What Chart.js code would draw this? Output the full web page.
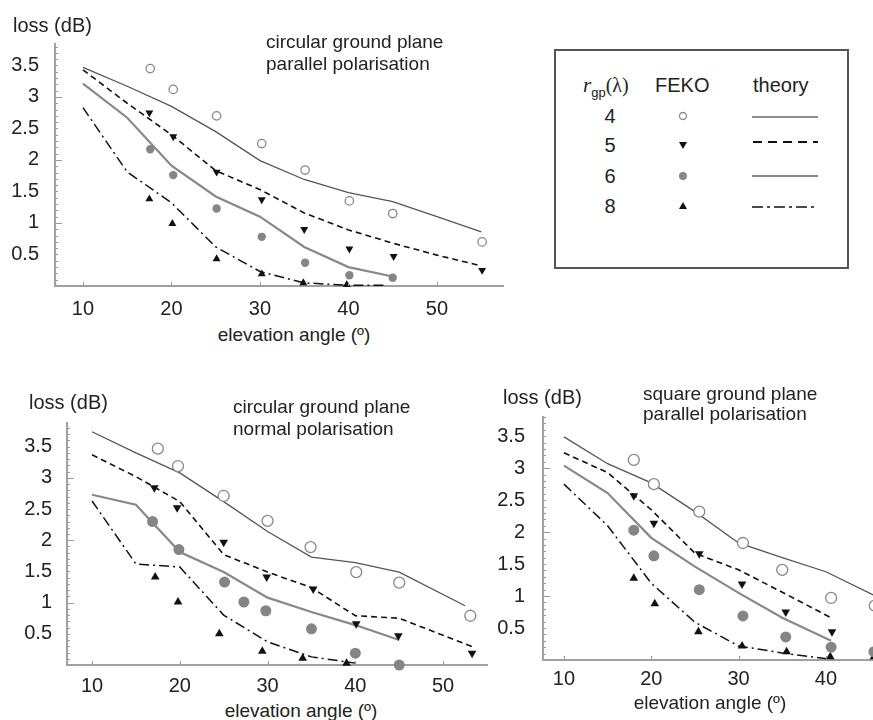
<!DOCTYPE html>
<html>
<head>
<meta charset="utf-8">
<script src="https://cdn.jsdelivr.net/npm/chart.js@4"></script>
<style>
  html, body { margin: 0; padding: 0; background: #fff; }
  body { width: 873px; height: 720px; overflow: hidden; position: relative;
         font-family: "Liberation Sans", Arial, sans-serif; color: #222; }
  .box { position: absolute; }
  .t { position: absolute; line-height: 1; white-space: nowrap; }
  .f20 { font-size: 20px; }
  .f19 { font-size: 19px; }
  .c { transform: translateX(-50%); }
  #legend { position: absolute; left: 554px; top: 49px; width: 291px; height: 216px;
            border: 2px solid #555; box-sizing: content-box; }
</style>
</head>
<body>

<div class="box" style="left:0;top:30px"><canvas id="top" width="520" height="290"></canvas></div>
<div class="box" style="left:0;top:400px"><canvas id="botLeft" width="510" height="295"></canvas></div>
<div class="box" style="left:480px;top:400px"><canvas id="botRight" width="440" height="290"></canvas></div>

<div class="t f20" style="left:13px;top:15px">loss (dB)</div>
<div class="t f19" style="left:266px;top:32px">circular ground plane</div>
<div class="t f19" style="left:266px;top:54px">parallel polarisation</div>
<div class="t f19 c" style="left:294px;top:325px">elevation angle (º)</div>

<div class="t f20" style="left:29px;top:392px">loss (dB)</div>
<div class="t f19" style="left:233px;top:397px">circular ground plane</div>
<div class="t f19" style="left:233px;top:419px">normal polarisation</div>
<div class="t f19 c" style="left:301px;top:701px">elevation angle (º)</div>

<div class="t f20" style="left:503px;top:387px">loss (dB)</div>
<div class="t f19" style="left:643px;top:384px">square ground plane</div>
<div class="t f19" style="left:643px;top:404px">parallel polarisation</div>
<div class="t f19 c" style="left:710px;top:693px">elevation angle (º)</div>

<div id="legend"></div>
<div class="t f20" style="left:583px;top:75px"><span style="font-family:'Liberation Serif',serif;font-style:italic;font-size:21px">r</span><span style="font-size:13px;position:relative;top:5px">gp</span><span style="font-family:'Liberation Serif',serif">(λ)</span></div>
<div class="t f20" style="left:655px;top:75px">FEKO</div>
<div class="t f20" style="left:753px;top:75px">theory</div>
<div class="t f20 c" style="left:610px;top:106px">4</div>
<div class="t f20 c" style="left:610px;top:135px">5</div>
<div class="t f20 c" style="left:610px;top:166px">6</div>
<div class="t f20 c" style="left:610px;top:196px">8</div>
<svg class="box" style="left:0;top:0" width="873" height="300">
  <circle cx="683" cy="116" r="3.5" fill="#fff" stroke="#888" stroke-width="1.3"/>
  <polygon points="679,142 687,142 683,149" fill="#111"/>
  <circle cx="683" cy="176" r="4" fill="#888"/>
  <polygon points="679,209 687,209 683,202" fill="#111"/>
  <line x1="752" y1="117" x2="818" y2="117" stroke="#666" stroke-width="1.3"/>
  <line x1="753" y1="142" x2="818" y2="142" stroke="#111" stroke-width="2" stroke-dasharray="9,6"/>
  <line x1="752" y1="176" x2="818" y2="176" stroke="#888" stroke-width="2"/>
  <line x1="752" y1="207" x2="818" y2="207" stroke="#111" stroke-width="1.6" stroke-dasharray="11,4,3,4"/>
</svg>

<script>
const xTicks = [10, 20, 30, 40, 50];
const yTicks = [0.5, 1, 1.5, 2, 2.5, 3, 3.5];

// circular ground plane, parallel polarisation
const cpFekoX4 = [17.6, 20.2, 25.1, 30.2, 35.1, 40.1, 45.0, 55.1];
const cpFeko4 = [3.45, 3.12, 2.70, 2.26, 1.84, 1.35, 1.15, 0.70];
const cpFekoX5 = [17.5, 20.2, 25.1, 30.2, 35.0, 40.1, 45.1, 55.1];
const cpFeko5 = [2.75, 2.37, 1.81, 1.37, 0.90, 0.59, 0.47, 0.25];
const cpFekoX6 = [17.6, 20.2, 25.1, 30.2, 35.1, 40.1, 45.0];
const cpFeko6 = [2.17, 1.76, 1.23, 0.78, 0.37, 0.17, 0.13];
const cpFekoX8 = [17.5, 20.1, 25.1, 30.2, 34.9, 39.8];
const cpFeko8 = [1.38, 0.99, 0.43, 0.19, 0.05, 0.02];
const cpTheoryX = [10, 15, 20, 25, 30, 35, 40, 45, 50, 55];
const cpTheory4 = [3.47, 3.17, 2.85, 2.45, 1.99, 1.69, 1.48, 1.34, 1.10, 0.86];
const cpTheory5 = [3.43, 2.90, 2.40, 1.83, 1.53, 1.16, 0.89, 0.68, 0.49, 0.32];
const cpTheoryX6 = [10, 15, 20, 25, 30, 35, 40, 45];
const cpTheory6 = [3.21, 2.67, 1.91, 1.42, 1.10, 0.62, 0.30, 0.15];
const cpTheoryX8 = [10, 15, 20, 25, 30, 35, 40, 44];
const cpTheory8 = [2.83, 1.81, 1.32, 0.62, 0.23, 0.05, 0.01, 0.01];

// circular ground plane, normal polarisation
const cnFekoX4 = [17.5, 19.8, 25.0, 30.0, 34.9, 40.1, 45.0, 53.1];
const cnFeko4 = [3.47, 3.19, 2.71, 2.31, 1.89, 1.49, 1.32, 0.79];
const cnFekoX5 = [17.1, 19.7, 25.0, 29.9, 35.2, 40.1, 44.9, 53.3];
const cnFeko5 = [2.84, 2.52, 1.97, 1.41, 1.22, 0.66, 0.47, 0.19];
const cnFekoX6 = [16.9, 19.9, 25.1, 27.3, 29.8, 35.0, 40.0, 45.0];
const cnFeko6 = [2.30, 1.85, 1.33, 1.01, 0.87, 0.58, 0.19, 0.0];
const cnFekoX8 = [17.2, 19.8, 24.5, 29.4, 34.0, 39.0];
const cnFeko8 = [1.41, 1.01, 0.50, 0.22, 0.11, 0.03];
const cnTheoryX4 = [10, 15, 20, 25, 30, 35, 40, 45, 52.5];
const cnTheory4 = [3.74, 3.40, 3.08, 2.62, 2.14, 1.73, 1.64, 1.49, 0.95];
const cnTheoryX5 = [10, 15, 20, 25, 30, 35, 40, 45, 53.4];
const cnTheory5 = [3.37, 3.02, 2.62, 1.77, 1.49, 1.24, 0.79, 0.75, 0.29];
const cnTheoryX6 = [10, 15, 20, 25, 30, 35, 40, 45];
const cnTheory6 = [2.73, 2.57, 1.81, 1.49, 1.08, 0.85, 0.64, 0.40];
const cnTheoryX8 = [10, 15, 20, 25, 30, 35, 40];
const cnTheory8 = [2.63, 1.62, 1.57, 0.80, 0.37, 0.13, 0.03];

// square ground plane, parallel polarisation
const spFekoX4 = [18.0, 20.3, 25.5, 30.5, 35.0, 40.6, 45.6];
const spFeko4 = [3.13, 2.75, 2.32, 1.83, 1.41, 0.97, 0.85];
const spFekoX5 = [18.0, 20.3, 25.5, 30.4, 35.4, 40.7];
const spFeko5 = [2.57, 2.14, 1.66, 1.19, 0.75, 0.44];
const spFekoX6 = [18.0, 20.3, 25.5, 30.5, 35.4, 40.6, 45.5];
const spFeko6 = [2.03, 1.63, 1.10, 0.69, 0.36, 0.20, 0.13];
const spFekoX8 = [18.0, 20.4, 25.4, 30.4, 35.5, 40.5, 45.5];
const spFeko8 = [1.28, 0.88, 0.44, 0.22, 0.13, 0.05, 0.05];
const spTheoryX4 = [10, 15, 20, 25, 30, 35, 40, 46];
const spTheory4 = [3.49, 3.07, 2.77, 2.32, 1.83, 1.60, 1.38, 0.98];
const spTheoryX = [10, 15, 20, 25, 30, 35, 40.6];
const spTheory5 = [3.24, 2.93, 2.35, 1.67, 1.41, 1.06, 0.66];
const spTheory6 = [3.04, 2.61, 1.91, 1.46, 1.05, 0.66, 0.30];
const spTheory8 = [2.75, 2.10, 1.20, 0.59, 0.22, 0.11, 0.01];

function pts(xs, ys) {
  return xs.map((x, i) => ({ x: x, y: ys[i] }));
}

const innerTicks = {
  id: "innerTicks",
  afterDraw(chart) {
    const { ctx, chartArea: a, scales: { x, y } } = chart;
    ctx.save();
    ctx.strokeStyle = "#999";
    ctx.lineWidth = 1;
    ctx.beginPath();
    for (let i = 1; i / 10 <= y.max; i++) {
      const py = Math.round(y.getPixelForValue(i / 10)) + 0.5;
      const len = i % 10 === 0 ? 7 : 3;
      ctx.moveTo(a.left, py);
      ctx.lineTo(a.left + len, py);
    }
    x.ticks.forEach(t => {
      const px = Math.round(x.getPixelForValue(t.value)) + 0.5;
      ctx.moveTo(px, a.bottom);
      ctx.lineTo(px, a.bottom - 4);
    });
    ctx.stroke();
    ctx.restore();
  }
};

function fekoSets(s, r, tr) {
  return [
    { data: s[0], pointStyle: "circle", pointRadius: r, backgroundColor: "#fff", borderColor: "#888", borderWidth: 1.3, clip: false },
    { data: s[1], pointStyle: "triangle", pointRotation: 180, pointRadius: tr, backgroundColor: "#111", borderColor: "#111", borderWidth: 0, clip: false },
    { data: s[2], pointStyle: "circle", pointRadius: r, backgroundColor: "#858585", borderColor: "#858585", borderWidth: 0, clip: false },
    { data: s[3], pointStyle: "triangle", pointRadius: tr, backgroundColor: "#111", borderColor: "#111", borderWidth: 0, clip: false }
  ];
}

function theorySets(s) {
  const base = { showLine: true, pointRadius: 0, tension: 0, fill: false };
  return [
    Object.assign({ data: s[0], borderColor: "#555", borderWidth: 1.3 }, base),
    Object.assign({ data: s[1], borderColor: "#111", borderWidth: 1.6, borderDash: [6, 4] }, base),
    Object.assign({ data: s[2], borderColor: "#888", borderWidth: 2.2 }, base),
    Object.assign({ data: s[3], borderColor: "#111", borderWidth: 1.5, borderDash: [10, 4, 2, 4] }, base)
  ];
}

function makeChart(id, o) {
  return new Chart(document.getElementById(id), {
    type: "scatter",
    data: { datasets: fekoSets(o.feko, o.r, o.tr).concat(theorySets(o.theory)) },
    options: {
      responsive: false,
      animation: false,
      devicePixelRatio: 1,
      layout: { autoPadding: false, padding: { left: 0, top: o.padTop, right: o.padRight, bottom: 0 } },
      plugins: { legend: { display: false }, tooltip: { enabled: false } },
      scales: {
        x: {
          type: "linear",
          min: o.xMin,
          max: o.xMax,
          afterBuildTicks: s => { s.ticks = xTicks.filter(v => v <= o.xMax).map(v => ({ value: v })); },
          afterFit: s => { s.height = o.xh; s.paddingLeft = 0; s.paddingRight = 0; },
          grid: { drawOnChartArea: false, drawTicks: false },
          border: { color: "#a0a0a0", width: 2 },
          ticks: { autoSkip: false, maxRotation: 0, padding: o.xPad, color: "#222",
                   font: { family: "Liberation Sans", size: 20 } }
        },
        y: {
          min: 0,
          max: o.yMax,
          afterBuildTicks: s => { s.ticks = yTicks.map(v => ({ value: v })); },
          afterFit: s => { s.width = o.yw; s.paddingTop = 0; s.paddingBottom = 0; },
          grid: { drawOnChartArea: false, drawTicks: false },
          border: { color: "#a0a0a0", width: 2 },
          ticks: { padding: o.yPad, color: "#222", callback: v => String(v),
                   font: { family: "Liberation Sans", size: 20 } }
        }
      }
    },
    plugins: [innerTicks]
  });
}

makeChart("top", {
  xMin: 6.84, xMax: 57.46, yMax: 3.84, yw: 55, xh: 34, padTop: 14, padRight: 17,
  xPad: 11, yPad: 16, r: 4.2, tr: 4.6,
  feko: [pts(cpFekoX4, cpFeko4), pts(cpFekoX5, cpFeko5), pts(cpFekoX6, cpFeko6), pts(cpFekoX8, cpFeko8)],
  theory: [pts(cpTheoryX, cpTheory4), pts(cpTheoryX, cpTheory5), pts(cpTheoryX6, cpTheory6), pts(cpTheoryX8, cpTheory8)]
});

makeChart("botLeft", {
  xMin: 7.15, xMax: 55.0, yMax: 3.88, yw: 67, xh: 30, padTop: 23, padRight: 23,
  xPad: 9, yPad: 15, r: 5.5, tr: 5,
  feko: [pts(cnFekoX4, cnFeko4), pts(cnFekoX5, cnFeko5), pts(cnFekoX6, cnFeko6), pts(cnFekoX8, cnFeko8)],
  theory: [pts(cnTheoryX4, cnTheory4), pts(cnTheoryX5, cnTheory5), pts(cnTheoryX6, cnTheory6), pts(cnTheoryX8, cnTheory8)]
});

makeChart("botRight", {
  xMin: 7.6, xMax: 49.06, yMax: 3.80, yw: 63, xh: 30, padTop: 17, padRight: 15,
  xPad: 7, yPad: 18, r: 5.5, tr: 5,
  feko: [pts(spFekoX4, spFeko4), pts(spFekoX5, spFeko5), pts(spFekoX6, spFeko6), pts(spFekoX8, spFeko8)],
  theory: [pts(spTheoryX4, spTheory4), pts(spTheoryX, spTheory5), pts(spTheoryX, spTheory6), pts(spTheoryX, spTheory8)]
});
</script>
</body>
</html>
